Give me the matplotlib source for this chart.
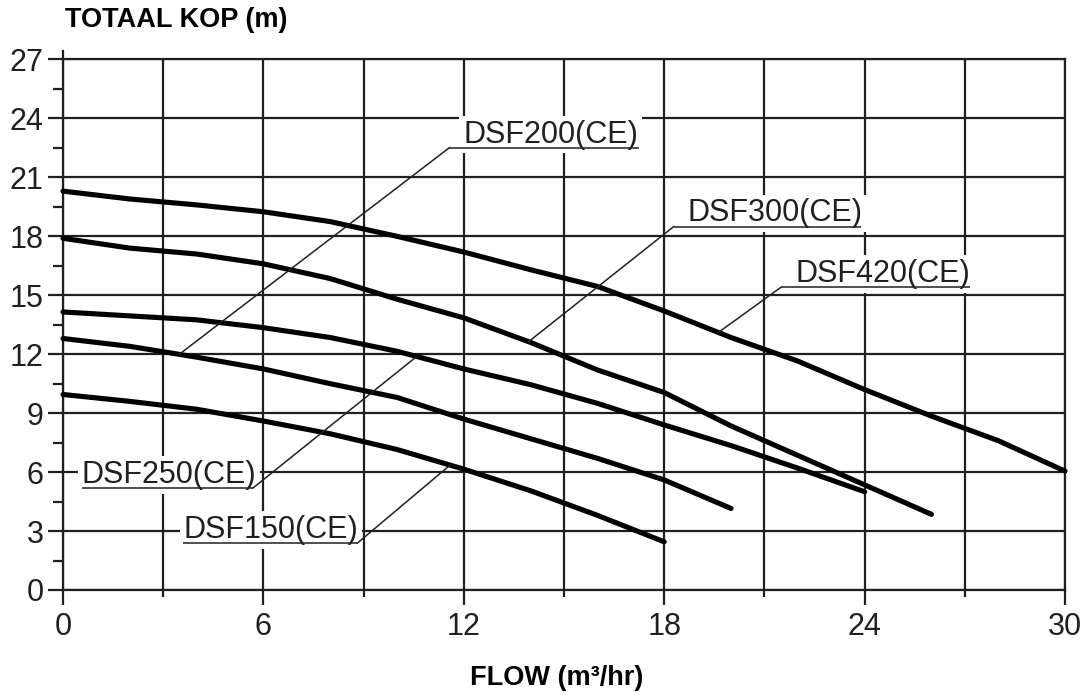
import matplotlib
matplotlib.use("Agg")
import matplotlib.pyplot as plt
from matplotlib.ticker import MultipleLocator
import numpy as np

plt.rcParams['font.family'] = ['Liberation Sans', 'DejaVu Sans']

# pump curves, flow (m3/hr) vs total head (m)
flow_420 = [0, 2, 4, 6, 8, 10, 12, 14, 16, 18, 20, 22, 24, 26, 28, 30]
head_420 = [20.3, 19.9, 19.6, 19.25, 18.75, 18.0, 17.2, 16.3, 15.45, 14.2, 12.85, 11.65, 10.2, 8.85, 7.6, 6.05]

flow_300 = [0, 2, 4, 6, 8, 10, 12, 14, 16, 18, 20, 22, 24, 26]
head_300 = [17.9, 17.4, 17.1, 16.6, 15.85, 14.8, 13.85, 12.6, 11.2, 10.05, 8.35, 6.85, 5.35, 3.85]

flow_250 = [0, 2, 4, 6, 8, 10, 12, 14, 16, 18, 20, 22, 24]
head_250 = [14.15, 13.95, 13.75, 13.35, 12.85, 12.15, 11.25, 10.45, 9.5, 8.4, 7.35, 6.2, 5.0]

flow_200 = [0, 2, 4, 6, 8, 10, 12, 14, 16, 18, 20]
head_200 = [12.8, 12.4, 11.85, 11.25, 10.5, 9.8, 8.7, 7.7, 6.7, 5.6, 4.15]

flow_150 = [0, 2, 4, 6, 8, 10, 12, 14, 16, 18]
head_150 = [9.95, 9.6, 9.2, 8.6, 7.95, 7.15, 6.15, 5.05, 3.8, 2.45]

curves = {
    'DSF420(CE)': (flow_420, head_420),
    'DSF300(CE)': (flow_300, head_300),
    'DSF250(CE)': (flow_250, head_250),
    'DSF200(CE)': (flow_200, head_200),
    'DSF150(CE)': (flow_150, head_150),
}

# label: text x, underline y, underline x0, x1, leader start side, flow where leader meets curve
labels = {
    'DSF200(CE)': (11.98, 22.5, 11.56, 17.25, 'left', 3.48),
    'DSF300(CE)': (18.71, 18.49, 18.28, 23.88, 'left', 13.94),
    'DSF420(CE)': (21.94, 15.4, 21.49, 27.16, 'left', 19.62),
    'DSF250(CE)': (0.56, 5.18, 0.56, 5.68, 'right', 10.59),
    'DSF150(CE)': (3.6, 2.38, 3.6, 8.81, 'right', 11.59),
}

ink = '#231f20'

fig = plt.figure(figsize=(10.84, 6.95), dpi=100)
ax = fig.add_axes([0.0581, 0.1511, 0.9244, 0.7633])

ax.set_xlim(0, 30)
ax.set_ylim(0, 27)

ax.xaxis.set_major_locator(MultipleLocator(6))
ax.xaxis.set_minor_locator(MultipleLocator(3))
ax.yaxis.set_major_locator(MultipleLocator(3))
ax.yaxis.set_minor_locator(MultipleLocator(1.5))

ax.grid(which='both', axis='x', color=ink, lw=1.6, zorder=0)
ax.grid(which='major', axis='y', color=ink, lw=1.6, zorder=0)
ax.set_axisbelow(True)

for s in ax.spines.values():
    s.set_color(ink)
    s.set_linewidth(1.6)
ax.spines['left'].set_bounds(0, 27.45)
ax.spines['left'].set_clip_on(False)

ax.tick_params(axis='both', which='major', direction='out', length=10.8, width=1.6,
               color=ink, labelsize=22, labelcolor=ink)
ax.tick_params(axis='x', which='major', pad=5)
ax.tick_params(axis='y', which='major', pad=3)
ax.tick_params(axis='x', which='minor', direction='out', length=5, width=1.6, color=ink)
ax.tick_params(axis='y', which='minor', direction='out', length=7.2, width=1.6, color=ink)

for name, (fx, hy) in curves.items():
    ax.plot(fx, hy, color='black', lw=3.7, solid_capstyle='round', zorder=3, clip_on=False)

for name, (tx, uy, ux0, ux1, side, cx) in labels.items():
    fx, hy = curves[name]
    cy = np.interp(cx, fx, hy)
    sx = ux0 if side == 'left' else ux1
    ax.text(tx, uy + 0.27, name, fontsize=22, color=ink, ha='left', va='baseline',
            bbox=dict(boxstyle='square,pad=0.12', fc='white', ec='none'), zorder=4)
    ax.plot([ux0, ux1], [uy, uy], color=ink, lw=1.1, zorder=5, solid_capstyle='butt')
    ax.plot([sx, cx], [uy, cy], color=ink, lw=1.1, zorder=5)

fig.text(65 / 1084, 1 - 27.3 / 695, 'TOTAAL KOP (m)', fontsize=19.5, fontweight='bold',
         ha='left', va='baseline', color='black')
fig.text(557 / 1084, 1 - 685 / 695, 'FLOW (m³/hr)', fontsize=19.5, fontweight='bold',
         ha='center', va='baseline', color='black')

fig.savefig('out.png', dpi=100)
